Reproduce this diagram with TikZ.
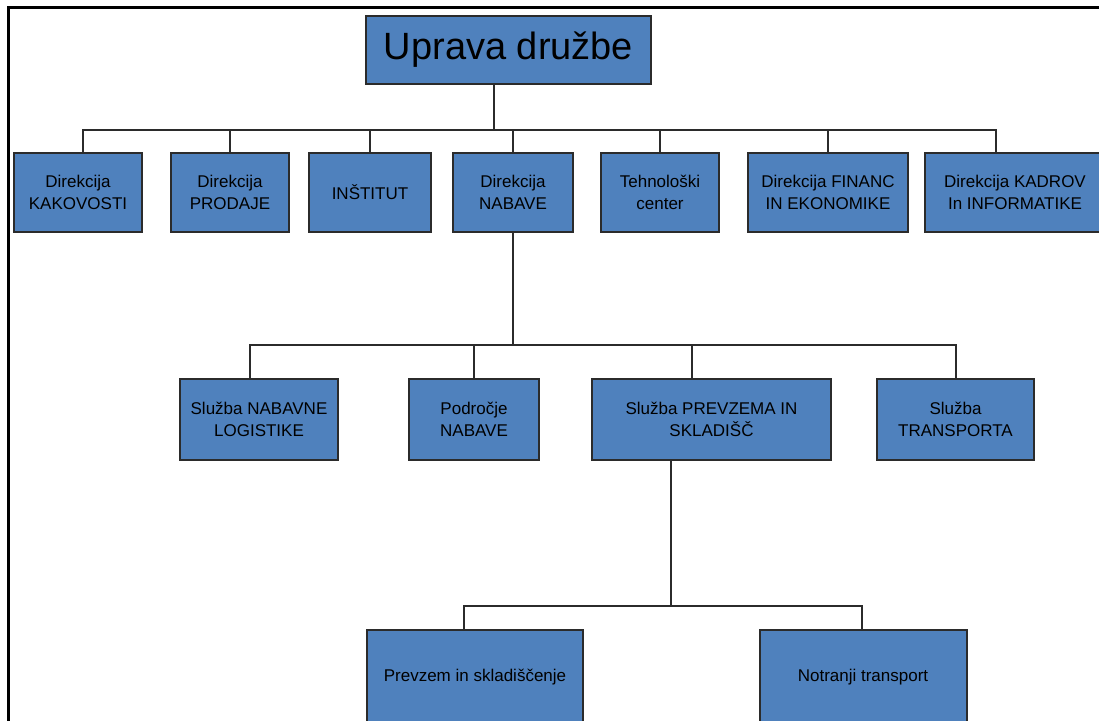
\documentclass[tikz,border=0pt]{standalone}
\usepackage{fontspec}
\setmainfont{Liberation Sans}
\definecolor{boxblue}{HTML}{4F81BD}
\definecolor{boxedge}{HTML}{2B2B2B}
\tikzset{
  unit/.style={draw=boxedge, line width=2pt, fill=boxblue, align=center, inner sep=2pt,
    font=\fontsize{17}{22}\selectfont},
  link/.style={draw=boxedge, line width=2pt}
}
\begin{document}
\begin{tikzpicture}[x=1pt,y=1pt]
\useasboundingbox (0,0) rectangle (1099,720);
\clip (0,0) rectangle (1099,720);
\draw[line width=3pt] (8,-10) -- (8,712) -- (1110,712);

% top
\node[unit, minimum width=285, minimum height=68, font=\fontsize{38}{40}\selectfont] (uprava) at (508.5,670) {Uprava družbe};

% directorates
\node[unit, minimum width=128, minimum height=79] (kakov) at (78,527.5) {Direkcija\\KAKOVOSTI};
\node[unit, minimum width=118, minimum height=79] (prodaje) at (230,527.5) {Direkcija\\PRODAJE};
\node[unit, minimum width=122, minimum height=79] (institut) at (370,527.5) {INŠTITUT};
\node[unit, minimum width=120, minimum height=79] (nabave) at (513,527.5) {Direkcija\\NABAVE};
\node[unit, minimum width=118, minimum height=79] (tehno) at (660,527.5) {Tehnološki\\center};
\node[unit, minimum width=160, minimum height=79] (financ) at (828,527.5) {Direkcija FINANC\\IN EKONOMIKE};
\node[unit, minimum width=180, minimum height=79] (kadrov) at (1015,527.5) {Direkcija KADROV\\In INFORMATIKE};

% services
\node[unit, minimum width=158, minimum height=81] (logist) at (259,300.5) {Služba NABAVNE\\LOGISTIKE};
\node[unit, minimum width=130, minimum height=81] (podr) at (474,300.5) {Področje\\NABAVE};
\node[unit, minimum width=239, minimum height=81] (prevz) at (711.5,300.5) {Služba PREVZEMA IN\\SKLADIŠČ};
\node[unit, minimum width=157, minimum height=81] (transp) at (955.5,300.5) {Služba\\TRANSPORTA};

% bottom
\node[unit, minimum width=216, minimum height=94] (sklad) at (475,43) {Prevzem in skladiščenje};
\node[unit, minimum width=207, minimum height=94] (notr) at (863,43) {Notranji transport};

% connectors
\coordinate (busA) at (494,590);
\coordinate (busB) at (514,375);
\coordinate (busC) at (671,114);

\draw[link] (uprava.south -| busA) -- (busA);
\draw[link] ([xshift=5]kakov.north) |- (busA);
\foreach \n in {prodaje,institut,nabave,tehno,financ}
  \draw[link] (\n.north) |- (busA);
\draw[link] ([xshift=-19]kadrov.north) |- (busA);

\draw[link] (nabave.south) -- (nabave.south |- busB);
\draw[link] ([xshift=-9]logist.north) |- (busB);
\draw[link] (podr.north) |- (busB);
\draw[link] ([xshift=-20]prevz.north) |- (busB);
\draw[link] (transp.north) |- (busB);

\draw[link] ([xshift=-40.5]prevz.south) -- (busC);
\draw[link] ([xshift=-11]sklad.north) |- (busC);
\draw[link] ([xshift=-1]notr.north) |- (busC);
\end{tikzpicture}
\end{document}
